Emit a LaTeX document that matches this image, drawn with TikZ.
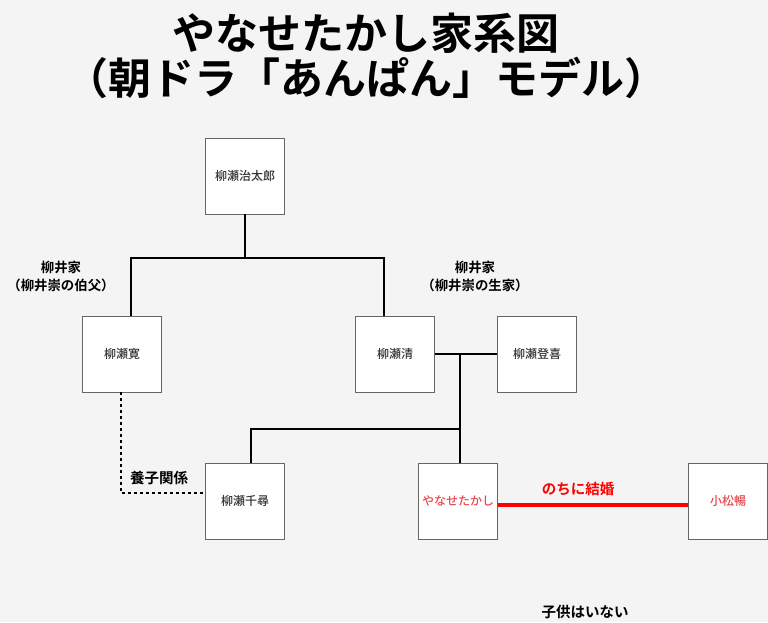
\documentclass[tikz,border=0pt]{standalone}
\usepackage{fontspec}
\setmainfont{Noto Sans CJK JP}
\newfontfamily\jpbold{Noto Sans CJK JP Bold}
\newfontfamily\jpmed{Noto Sans CJK JP Medium}
\usepackage{tikz}
\usetikzlibrary{calc}
\definecolor{bgcol}{HTML}{F4F4F4}
\definecolor{boxtext}{HTML}{333333}
\definecolor{marry}{HTML}{FF0000}
\definecolor{marrytext}{HTML}{E8484D}
\tikzstyle{person}=[draw=black!60, line width=0.9pt, fill=white, minimum width=79pt, minimum height=76pt, inner sep=0pt, font=\jpmed\fontsize{12}{14}\selectfont, text=boxtext]
\tikzstyle{kin}=[line width=2pt, black]
\tikzstyle{note}=[font=\jpbold\fontsize{14.5}{17}\selectfont, align=center]
\tikzstyle{house}=[font=\jpbold\fontsize{13.4}{18}\selectfont, align=center]

\begin{document}
\begin{tikzpicture}[x=1pt,y=-1pt]
\fill[bgcol] (0,0) rectangle (768,622);
\useasboundingbox (0,0) rectangle (768,622);
\node[font=\jpbold\fontsize{43}{45}\selectfont, align=center] (title) at (366,56) {やなせたかし家系図\\（朝ドラ「あんぱん」モデル）};
\node[person] (jitaro) at (245,176) {柳瀬治太郎};
\node[person] (hiroshi) at (122,354) {柳瀬寛};
\node[person] (kiyoshi) at (395,354) {柳瀬清};
\node[person] (toki) at (537,354) {柳瀬登喜};
\node[person] (chihiro) at (245,501) {柳瀬千尋};
\node[person, text=marrytext] (takashi) at (458,501) {やなせたかし};
\node[person, text=marrytext] (nobu) at (728,501) {小松暢};
\coordinate (top) at ($(jitaro.south)+(0,44)$);
\coordinate (mid) at (460,354);
\coordinate (low) at (460,429);
% parents
\draw[kin] (jitaro.south) -- (top);
\draw[kin] ([xshift=9pt]hiroshi.north) |- (top) -| ([xshift=-11pt]kiyoshi.north);
\draw[kin] (kiyoshi.east) -- (toki.west);
\draw[kin] (mid) -- (takashi.north -| mid);
\draw[kin] ([xshift=6pt]chihiro.north) |- (low);
% adoption
\draw[line width=1.6pt, dash pattern=on 3pt off 3pt] ([xshift=-1pt]hiroshi.south) |- ([yshift=8pt]chihiro.west);
\node[note] (yoshi) at (159,478) {養子関係};
% marriage
\draw[marry, line width=4pt] ([yshift=-4pt]takashi.east) -- ([yshift=-4pt]nobu.west);
\node[note, text=marry] (later) at (578,489) {のちに結婚};
\node[house] (uncle) at (61,276) {柳井家\\（柳井崇の伯父）};
\node[house] (home) at (475,276) {柳井家\\（柳井崇の生家）};
\node[note] (nochild) at (585,612) {子供はいない};
\end{tikzpicture}
\end{document}
